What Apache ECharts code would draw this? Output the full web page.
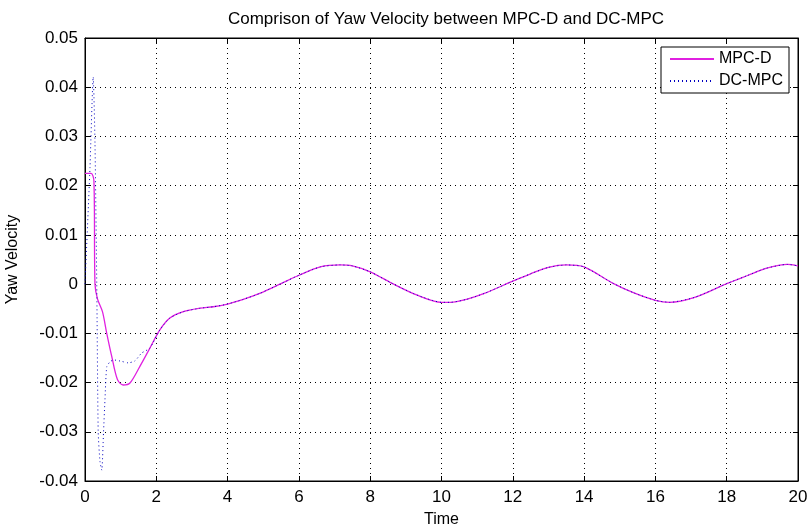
<!DOCTYPE html>
<html><head><meta charset="utf-8">
<script src="https://cdn.jsdelivr.net/npm/echarts@6/dist/echarts.min.js"></script>
<style>html,body{margin:0;padding:0;background:#fff}#c{width:807px;height:529px}</style>
</head><body><div id="c"></div>
<script>
const titleText = 'Comprison of Yaw Velocity between MPC-D and DC-MPC';
const xName = 'Time';
const yName = 'Yaw Velocity';
const xTicks = [0,2,4,6,8,10,12,14,16,18,20];
const yTicks = [-0.04,-0.03,-0.02,-0.01,0,0.01,0.02,0.03,0.04,0.05];
const mpcdT = [0,0.17,0.25,0.28,0.35,0.49,0.61,0.75,0.91,1.07,1.26,1.54,1.82,2.1,2.38,2.76,3.23,3.6,3.97,4.44,4.9,5.5,6.0,6.6,7.15,7.5,8.0,8.6,9.3,10.0,10.25,10.7,11.2,12.0,12.5,13.0,13.5,14.0,14.8,15.4,16.0,16.4,17.1,18.0,18.6,19.1,19.7,20.0];
const mpcdV = [0.0225,0.0225,0.021,0,-0.003,-0.0056,-0.010,-0.0147,-0.0194,-0.0205,-0.0201,-0.0167,-0.013,-0.0093,-0.0069,-0.0056,-0.0049,-0.0046,-0.0041,-0.0031,-0.0019,0.0001,0.0018,0.0035,0.0039,0.0037,0.0025,0.0002,-0.0022,-0.0037,-0.0037,-0.0031,-0.0019,0.0006,0.0021,0.0034,0.0039,0.0035,0.0002,-0.0018,-0.0033,-0.0037,-0.0027,0.0001,0.0018,0.0032,0.004,0.0037];
const dcT = [0,0.06,0.14,0.23,0.28,0.33,0.37,0.42,0.47,0.52,0.56,0.61,0.7,0.8,1.03,1.21,1.4,1.59,1.82];
const dcV = [0,0.010,0.0237,0.0421,0.0287,0.0,-0.030,-0.036,-0.0378,-0.030,-0.0235,-0.0168,-0.0158,-0.0154,-0.0157,-0.016,-0.0156,-0.014,-0.013];
const mpcd = mpcdT.map((t,i)=>[t,mpcdV[i]]);
const dc = dcT.map((t,i)=>[t,dcV[i]]).concat(mpcd.filter(p=>p[0]>1.82));
const font = 'Liberation Sans, Arial, sans-serif';
const chart = echarts.init(document.getElementById('c'), null, {renderer:'canvas'});
const yFmt = v => { const r = Math.round(v*100)/100; return r===0 ? '0' : String(r); };
chart.setOption({
  animation:false,
  backgroundColor:'#fff',
  title:{text:titleText,left:441,textAlign:'center',top:6,textStyle:{fontFamily:font,fontSize:17,fontWeight:'normal',color:'#000'}},
  grid:{left:85,right:9,top:38,bottom:48,show:true,borderColor:'#000',borderWidth:1,backgroundColor:'transparent',outerBoundsMode:'none',containLabel:false},
  legend:{orient:'vertical',right:18,top:47,backgroundColor:'#fff',borderColor:'#000',borderWidth:1,borderRadius:0,padding:[4,6,4,8],itemWidth:44,itemHeight:10,itemGap:6,
    itemStyle:{opacity:0},
    textStyle:{fontFamily:font,fontSize:16,color:'#000'},data:['MPC-D','DC-MPC']},
  xAxis:[{type:'value',min:0,max:20,interval:2,name:xName,nameLocation:'middle',nameGap:31,
    nameTextStyle:{fontFamily:font,fontSize:16,color:'#000'},
    axisLine:{show:true,onZero:false,lineStyle:{color:'#000'}},axisTick:{show:true,inside:true,length:5,lineStyle:{color:'#000'}},
    axisLabel:{fontFamily:font,fontSize:17,color:'#000',margin:8,formatter:v=>String(v)},
    splitLine:{show:true,lineStyle:{color:'#000',type:[1,4],width:1}}},
   {type:'value',position:'top',min:0,max:20,interval:2,axisLine:{show:true,onZero:false,lineStyle:{color:'#000'}},axisTick:{show:true,inside:true,length:5,lineStyle:{color:'#000'}},axisLabel:{show:false},splitLine:{show:false}}],
  yAxis:[{type:'value',min:-0.04,max:0.05,interval:0.01,name:yName,nameLocation:'middle',nameGap:64,
    nameTextStyle:{fontFamily:font,fontSize:16,color:'#000'},
    axisLine:{show:true,onZero:false,lineStyle:{color:'#000'}},axisTick:{show:true,inside:true,length:5,lineStyle:{color:'#000'}},
    axisLabel:{fontFamily:font,fontSize:17,color:'#000',margin:7,formatter:yFmt},
    splitLine:{show:true,lineStyle:{color:'#000',type:[1,4],width:1}}},
   {type:'value',position:'right',min:-0.04,max:0.05,interval:0.01,axisLine:{show:true,onZero:false,lineStyle:{color:'#000'}},axisTick:{show:true,inside:true,length:5,lineStyle:{color:'#000'}},axisLabel:{show:false},splitLine:{show:false}}],
  series:[
    {name:'MPC-D',type:'line',data:mpcd,smooth:0.3,symbol:'none',lineStyle:{color:'#e020e0',width:1.3},itemStyle:{color:'#e020e0'},z:2},
    {name:'DC-MPC',type:'line',data:dc,smooth:0.2,symbol:'none',lineStyle:{color:'#0000c0',width:1,type:[1,3]},itemStyle:{color:'#0000c0'},z:3}
  ]
});
</script></body></html>
